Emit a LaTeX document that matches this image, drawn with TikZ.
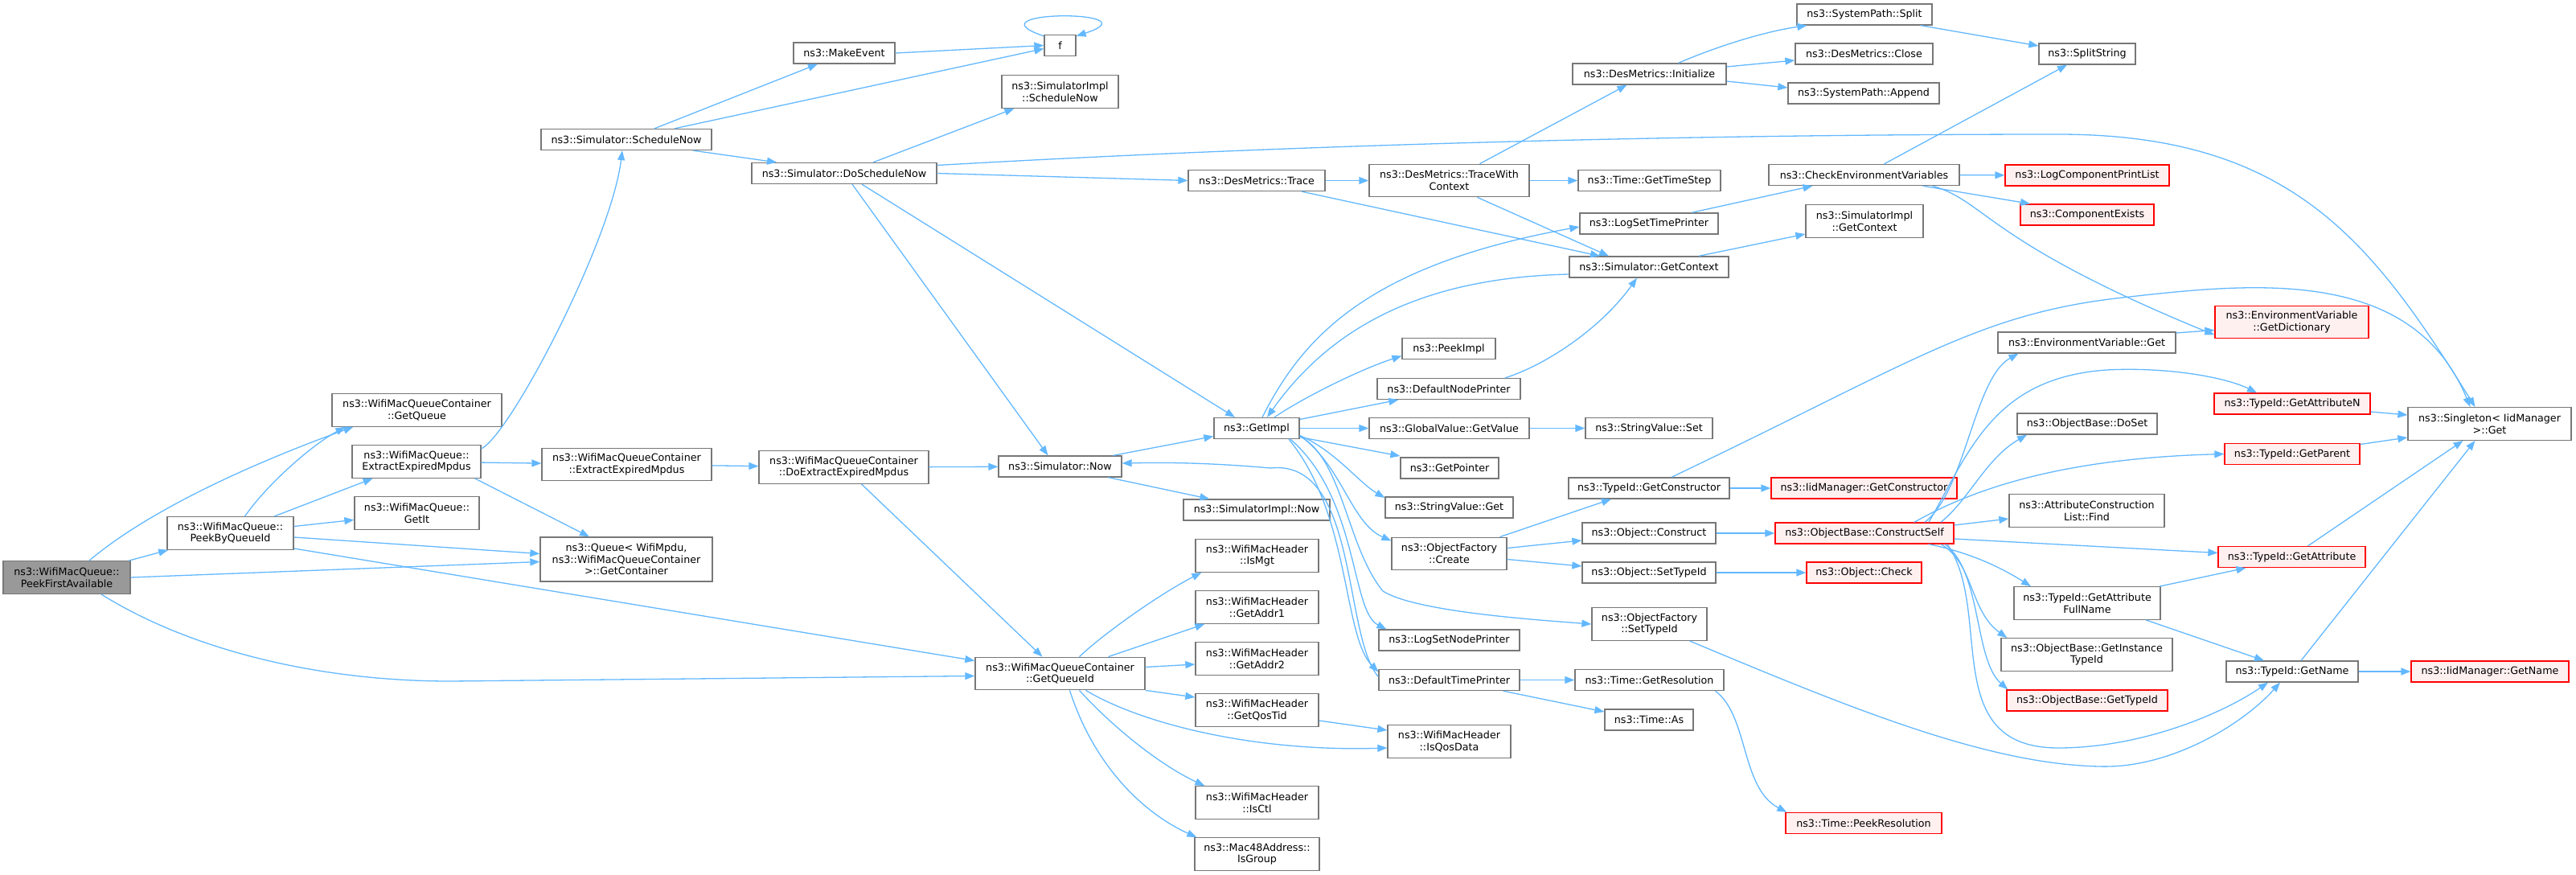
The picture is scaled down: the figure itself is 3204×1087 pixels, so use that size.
\documentclass[tikz,border=0pt]{standalone}
\usepackage{fontspec}
\setmainfont{DejaVu Sans}
\usetikzlibrary{arrows.meta}
\definecolor{callblue}{HTML}{63B8FF}
\definecolor{boxline}{HTML}{777777}
\definecolor{rootfill}{HTML}{999999}
\definecolor{redfill}{HTML}{FFF0F0}

\begin{document}
\begin{tikzpicture}[x=1pt,y=-1pt,
    fn/.style={draw=boxline, fill=white, line width=1.3pt, inner sep=0pt, align=center,
      font=\fontsize{12.7}{14.7}\selectfont},
    fnroot/.style={fn, fill=rootfill},
    fnred/.style={fn, draw=red, fill=redfill},
    ln1/.style={minimum height=26pt},
    ln2/.style={minimum height=40.5pt},
    ln3/.style={minimum height=55pt},
    wd/.style={minimum width=#1pt},
    call/.style={draw=callblue, line width=1.3pt, -{Triangle[length=12pt,width=9pt]}}]
     \useasboundingbox (0,0) rectangle (3204,1087);
      %%%%%%%%%%%%%%%%%%%%%%%%%%%%%%%%%%%%%%%%%%%%%%
      %%% Functions, column by column
      %%%%%%%%%%%%%%%%%%%%%%%%%%%%%%%%%%%%%%%%%%%%%%
     % The function whose graph this is
     \node[fnroot, ln2, wd=158] (pfa) at (83,718) {ns3::WifiMacQueue::\\PeekFirstAvailable};
     \node[fn, ln2, wd=157] (pbq) at (286.5,663) {ns3::WifiMacQueue::\\PeekByQueueId};
     \node[fn, ln2, wd=211] (getq) at (518.5,510) {ns3::WifiMacQueueContainer\\::GetQueue};
     \node[fn, ln2, wd=160] (eem) at (518,574) {ns3::WifiMacQueue::\\ExtractExpiredMpdus};
     \node[fn, ln2, wd=155] (getit) at (518.5,638) {ns3::WifiMacQueue::\\GetIt};
     \node[fn, ln1, wd=212] (schnow) at (779,173.5) {ns3::Simulator::ScheduleNow};
     \node[fn, ln2, wd=211] (cext) at (779.5,577.5) {ns3::WifiMacQueueContainer\\::ExtractExpiredMpdus};
     \node[fn, ln3, wd=214] (getcont) at (779,695.5) {ns3::Queue< WifiMpdu,\\ns3::WifiMacQueueContainer\\>::GetContainer};
     \node[fn, ln1, wd=126] (mkev) at (1050,66) {ns3::MakeEvent};
     \node[fn, ln1, wd=230] (dosch) at (1050,215.5) {ns3::Simulator::DoScheduleNow};
     \node[fn, ln2, wd=211] (doext) at (1049.5,581) {ns3::WifiMacQueueContainer\\::DoExtractExpiredMpdus};
     \node[fn, ln1, wd=39] (f) at (1318.5,56.5) {f};
     \node[fn, ln2, wd=145] (siSched) at (1318.5,114) {ns3::SimulatorImpl\\::ScheduleNow};
     \node[fn, ln1, wd=153] (now) at (1318.5,580) {ns3::Simulator::Now};
     \node[fn, ln2, wd=211] (gqid) at (1318.5,837.5) {ns3::WifiMacQueueContainer\\::GetQueueId};
     \node[fn, ln1, wd=170] (trace) at (1563,224.5) {ns3::DesMetrics::Trace};
     \node[fn, ln1, wd=106] (getimpl) at (1563,532.5) {ns3::GetImpl};
     \node[fn, ln1, wd=182] (siNow) at (1563,634) {ns3::SimulatorImpl::Now};
     % header queries of the queue id
     \foreach \n/\y/\t in {isMgt/691/IsMgt, addr1/755/GetAddr1, addr2/819/GetAddr2,
                           qostid/883/GetQosTid, isCtl/998/IsCtl}
         \node[fn, ln2, wd=153] (\n) at (1563.5,\y) {ns3::WifiMacHeader\\::\t};
     \node[fn, ln2, wd=155] (isGroup) at (1563.5,1062) {ns3::Mac48Address::\\IsGroup};
     \node[fn, ln2, wd=199] (twc) at (1802.5,224.5) {ns3::DesMetrics::TraceWith\\Context};
     \node[fn, ln1, wd=116] (peekImpl) at (1802,433.5) {ns3::PeekImpl};
     \node[fn, ln1, wd=178] (dnp) at (1802,483.5) {ns3::DefaultNodePrinter};
     \node[fn, ln1, wd=199] (gvGet) at (1802.5,532.5) {ns3::GlobalValue::GetValue};
     \node[fn, ln1, wd=122] (getPtr) at (1803,582) {ns3::GetPointer};
     \node[fn, ln1, wd=159] (svGet) at (1802.5,631) {ns3::StringValue::Get};
     \node[fn, ln2, wd=143] (ofCreate) at (1802.5,688.5) {ns3::ObjectFactory\\::Create};
     \node[fn, ln1, wd=175] (lsnp) at (1802.5,796) {ns3::LogSetNodePrinter};
     \node[fn, ln1, wd=175] (dtp) at (1802.5,845.5) {ns3::DefaultTimePrinter};
     \node[fn, ln2, wd=153] (isQos) at (1802.5,922) {ns3::WifiMacHeader\\::IsQosData};
     \node[fn, ln1, wd=191] (init) at (2051.5,92) {ns3::DesMetrics::Initialize};
     \node[fn, ln1, wd=177] (timestep) at (2051.5,224.5) {ns3::Time::GetTimeStep};
     \node[fn, ln1, wd=172] (lstp) at (2051,278) {ns3::LogSetTimePrinter};
     \node[fn, ln1, wd=198] (simGetCtx) at (2051,332) {ns3::Simulator::GetContext};
     \node[fn, ln1, wd=158] (svSet) at (2051,532.5) {ns3::StringValue::Set};
     \node[fn, ln1, wd=200] (tidGetCtor) at (2051,607) {ns3::TypeId::GetConstructor};
     \node[fn, ln1, wd=166] (objConstruct) at (2051,663) {ns3::Object::Construct};
     \node[fn, ln1, wd=166] (objSetTid) at (2051,712) {ns3::Object::SetTypeId};
     \node[fn, ln2, wd=143] (ofSetTid) at (2051.5,776) {ns3::ObjectFactory\\::SetTypeId};
     \node[fn, ln1, wd=185] (getRes) at (2051.5,845.5) {ns3::Time::GetResolution};
     \node[fn, ln1, wd=110] (timeAs) at (2051,895) {ns3::Time::As};
     \node[fn, ln1, wd=168] (spSplit) at (2319,18) {ns3::SystemPath::Split};
     \node[fn, ln1, wd=171] (dmClose) at (2318.5,67) {ns3::DesMetrics::Close};
     \node[fn, ln1, wd=188] (spAppend) at (2318,116) {ns3::SystemPath::Append};
     \node[fn, ln1, wd=237] (checkEnv) at (2318.5,217.5) {ns3::CheckEnvironmentVariables};
     \node[fn, ln2, wd=146] (siGetCtx) at (2319,275) {ns3::SimulatorImpl\\::GetContext};
     \node[fnred, ln1, wd=231] (iidGetCtor) at (2318.5,607) {ns3::IidManager::GetConstructor};
     \node[fnred, ln1, wd=222] (constructSelf) at (2319,663) {ns3::ObjectBase::ConstructSelf};
     \node[fnred, ln1, wd=143] (objCheck) at (2318.5,712) {ns3::Object::Check};
     \node[fnred, ln1, wd=194] (peekRes) at (2318,1023.5) {ns3::Time::PeekResolution};
     \node[fn, ln1, wd=120] (splitStr) at (2596,67) {ns3::SplitString};
     \node[fnred, ln1, wd=204] (logCPL) at (2596,218) {ns3::LogComponentPrintList};
     \node[fnred, ln1, wd=166] (compExists) at (2596,267) {ns3::ComponentExists};
     \node[fn, ln1, wd=221] (envGet) at (2595.5,426) {ns3::EnvironmentVariable::Get};
     \node[fn, ln1, wd=174] (doSet) at (2596,527) {ns3::ObjectBase::DoSet};
     \node[fn, ln2, wd=193] (acFind) at (2595.5,635) {ns3::AttributeConstruction\\List::Find};
     \node[fn, ln2, wd=182] (getAttrFull) at (2596,750) {ns3::TypeId::GetAttribute\\FullName};
     \node[fn, ln2, wd=213] (getInstTid) at (2595.5,814) {ns3::ObjectBase::GetInstance\\TypeId};
     \node[fnred, ln1, wd=200] (getTid) at (2596,871) {ns3::ObjectBase::GetTypeId};
     \node[fnred, ln2, wd=191] (getDict) at (2850.5,400.5) {ns3::EnvironmentVariable\\::GetDictionary};
     \node[fnred, ln1, wd=194] (getAttrN) at (2851,502) {ns3::TypeId::GetAttributeN};
     \node[fnred, ln1, wd=168] (getParent) at (2851,564.5) {ns3::TypeId::GetParent};
     \node[fnred, ln1, wd=183] (getAttr) at (2850.5,692.5) {ns3::TypeId::GetAttribute};
     \node[fn, ln1, wd=164] (getName) at (2851,835) {ns3::TypeId::GetName};
     \node[fn, ln2, wd=203] (singleton) at (3096.5,527) {ns3::Singleton< IidManager\\>::Get};
     \node[fnred, ln1, wd=196] (iidGetName) at (3097,835) {ns3::IidManager::GetName};

      %%%%%%%%%%%%%%%%%%%%%%%%%%%%%%%%%%%%%%%%%%%%%%
      %%% Calls
      %%%%%%%%%%%%%%%%%%%%%%%%%%%%%%%%%%%%%%%%%%%%%%
     % from the queue itself
     \draw[call] (pfa) -- (pbq);
     \draw[call] ([xshift=28pt]pfa.north) .. controls (190,630) and (330,570) .. ([xshift=27pt]getq.south west);
     \draw[call] (pfa.east) -- ([yshift=-3pt]getcont.west);
     \draw[call] (pfa.334) .. controls (240,810) and (400,847) .. (560,847) -- ([yshift=-3pt]gqid.west);
     \draw[call] ([xshift=18pt]pbq.north) .. controls (330,605) and (385,555) .. ([xshift=17pt]getq.south west);
     \draw[call] (pbq) -- (eem);
     \draw[call] (pbq) -- (getit);
     \draw[call] ([yshift=-5pt]pbq.east) -- ([yshift=7pt]getcont.west);
     \draw[call] ([yshift=-19pt]pbq.east) -- ([yshift=16pt]gqid.west);
     \draw[call] ([yshift=16pt]eem.east) .. controls (635,540) and (760,300) .. ([xshift=-5pt]schnow.south);
     \draw[call] (eem) -- (cext);
     \draw[call] ([xshift=-8pt]eem.south east) -- ([xshift=-46pt]getcont.north);
     \draw[call] (cext) -- (doext);
     \draw[call] (doext) -- (now);
     \draw[call] ([xshift=22pt]doext.south) -- ([xshift=-22pt]gqid.north);
     % scheduling
     \draw[call] ([xshift=35pt]schnow.north) -- ([xshift=-33pt]mkev.south);
     \draw[call] ([xshift=60pt]schnow.north) -- ([yshift=-4pt]f.west);
     \draw[call] ([xshift=83pt]schnow.south) -- ([xshift=-84pt]dosch.north);
     \draw[call] (mkev.east) -- (f.west);
     \draw[call] (f.150) .. controls (1200,12) and (1440,12) .. (f.30);
     \draw[call] ([xshift=36pt]dosch.north) -- ([xshift=-57pt]siSched.south);
     \draw[call] (dosch.east) -- (trace.west);
     \draw[call] ([yshift=10pt]dosch.east) .. controls (1700,175) and (2200,167) .. (2560,167)
                 .. controls (2850,167) and (2950,300) .. ([xshift=-18pt]singleton.north);
     \draw[call] ([xshift=22pt]dosch.south) -- ([xshift=-27pt]getimpl.north);
     \draw[call] ([xshift=10pt]dosch.south) -- ([xshift=-15pt]now.north);
     % tracing
     \draw[call] (trace) -- (twc);
     \draw[call] ([xshift=56pt]trace.south) -- ([xshift=-61pt]simGetCtx.north);
     \draw[call] ([xshift=38pt]twc.north) -- ([xshift=-28pt]init.south);
     \draw[call] (twc) -- (timestep);
     \draw[call] ([xshift=35pt]twc.south) -- ([xshift=-50pt]simGetCtx.north);
     \draw[call] ([xshift=36pt]init.north) .. controls (2130,60) and (2190,40) .. ([xshift=13pt]spSplit.south west);
     \draw[call] ([yshift=9pt]init.east) -- ([yshift=-8pt]dmClose.west);
     \draw[call] ([yshift=-9pt]init.east) -- ([yshift=7pt]spAppend.west);
     \draw[call] ([xshift=70pt]spSplit.south) -- ([yshift=10pt]splitStr.west);
     \draw[call] ([xshift=25pt]checkEnv.north) -- ([xshift=-25pt]splitStr.south);
     \draw[call] (checkEnv) -- (logCPL);
     \draw[call] ([xshift=73pt]checkEnv.south) -- ([xshift=-71pt]compExists.north);
     \draw[call] ([xshift=85pt]checkEnv.south) .. controls (2470,250) and (2470,300) .. ([yshift=-16pt]getDict.west);
     \draw[call] ([xshift=53pt]lstp.north) -- ([xshift=-64pt]checkEnv.south);
     \draw[call] ([xshift=62pt]simGetCtx.north) -- ([yshift=-16pt]siGetCtx.west);
     \draw[call] ([yshift=-9pt]simGetCtx.west) .. controls (1780,345) and (1660,400) .. ([xshift=13pt]getimpl.north);
     % the implementation
     \draw[call] ([xshift=7pt]getimpl.north) .. controls (1620,420) and (1700,330) .. ([yshift=-4pt]lstp.west);
     \draw[call] ([xshift=22pt]getimpl.north) .. controls (1620,495) and (1690,460) .. ([yshift=-9pt]peekImpl.west);
     \draw[call] ([yshift=11pt]getimpl.east) -- ([xshift=27pt]dnp.south west);
     \draw[call] (getimpl) -- (gvGet);
     \draw[call] (gvGet) -- (svSet);
     \draw[call] ([yshift=-11pt]getimpl.east) -- ([yshift=15pt]getPtr.west);
     \draw[call] ([yshift=-9pt]getimpl.east) .. controls (1660,560) and (1690,600) .. ([yshift=12pt]svGet.west);
     \draw[call] ([yshift=-9pt]getimpl.east) .. controls (1670,580) and (1680,650) .. ([yshift=16pt]ofCreate.west);
     \draw[call] ([xshift=42pt]getimpl.south) .. controls (1690,620) and (1680,760) .. ([xshift=10pt]lsnp.north west);
     \draw[call] ([xshift=40pt]getimpl.south) .. controls (1680,640) and (1670,790) .. ([yshift=10pt]dtp.west);
     \draw[call] ([yshift=-10pt]getimpl.east) .. controls (1670,570) and (1675,680) .. (1720,735)
                 .. controls (1760,760) and (1900,770) .. (ofSetTid.west);
     \draw[call] ([yshift=4pt]dtp.west) .. controls (1670,790) and (1690,570) .. (1580,582)
                 .. controls (1500,575) and (1450,575) .. ([yshift=4pt]now.east);
     \draw[call] ([xshift=66pt]now.north) -- ([yshift=-10pt]getimpl.west);
     \draw[call] ([xshift=60pt]now.south) -- ([xshift=33pt]siNow.north west);
     \draw[call] ([xshift=70pt]dnp.north) .. controls (1920,455) and (1990,410) .. ([xshift=-15pt]simGetCtx.south);
     % objects and type ids
     \draw[call] ([xshift=63pt]ofCreate.north) -- ([xshift=-47pt]tidGetCtor.south);
     \draw[call] ([yshift=7pt]ofCreate.east) -- ([yshift=-9pt]objConstruct.west);
     \draw[call] ([yshift=-7pt]ofCreate.east) -- ([yshift=8pt]objSetTid.west);
     \draw[call] (tidGetCtor) -- (iidGetCtor);
     \draw[call] ([xshift=28pt]tidGetCtor.north) .. controls (2380,450) and (2460,390) .. (2640,370)
                 .. controls (2800,352) and (3000,330) .. ([xshift=-24pt]singleton.north);
     \draw[call] (objConstruct) -- (constructSelf);
     \draw[call] (objSetTid) -- (objCheck);
     \draw[call] ([xshift=50pt]ofSetTid.south) .. controls (2300,880) and (2470,950) .. (2611,953)
                 .. controls (2700,956) and (2790,900) .. ([xshift=-15pt]getName.south);
     \draw[call] ([xshift=75pt]constructSelf.north) .. controls (2445,610) and (2455,470) .. ([xshift=-85pt]envGet.south);
     \draw[call] ([xshift=80pt]constructSelf.north) .. controls (2450,560) and (2480,470) .. (2620,460)
                 .. controls (2700,456) and (2770,470) .. ([xshift=-44pt]getAttrN.north);
     \draw[call] ([xshift=95pt]constructSelf.north) .. controls (2450,620) and (2470,570) .. ([xshift=-75pt]doSet.south);
     \draw[call] ([xshift=62pt]constructSelf.north) .. controls (2450,610) and (2560,570) .. (getParent.west);
     \draw[call] ([yshift=10pt]constructSelf.east) -- ([yshift=-10pt]acFind.west);
     \draw[call] ([yshift=-7pt]constructSelf.east) -- ([yshift=5pt]getAttr.west);
     \draw[call] ([xshift=80pt]constructSelf.south) .. controls (2440,685) and (2480,700) .. ([xshift=-70pt]getAttrFull.north);
     \draw[call] ([xshift=95pt]constructSelf.south) .. controls (2455,700) and (2450,760) .. ([xshift=8pt]getInstTid.north west);
     \draw[call] ([xshift=100pt]constructSelf.south) .. controls (2465,710) and (2455,820) .. ([xshift=2pt]getTid.north west);
     \draw[call] ([xshift=103pt]constructSelf.south) .. controls (2480,760) and (2410,930) .. (2560,930)
                 .. controls (2660,930) and (2760,890) .. ([xshift=-30pt]getName.south);
     \draw[call] ([xshift=90pt]getAttrFull.north) -- ([xshift=-57pt]getAttr.south);
     \draw[call] ([xshift=73pt]getAttrFull.south) -- ([xshift=-35pt]getName.north);
     \draw[call] ([xshift=11pt]getName.north) -- ([xshift=-18pt]singleton.south);
     \draw[call] (getName) -- (iidGetName);
     \draw[call] ([xshift=20pt]getAttr.north) -- ([xshift=-33pt]singleton.south);
     \draw[call] ([yshift=12pt]getParent.east) -- ([yshift=-17pt]singleton.west);
     \draw[call] ([yshift=-10pt]getAttrN.east) -- ([yshift=11pt]singleton.west);
     \draw[call] ([yshift=12pt]envGet.east) -- ([yshift=-10pt]getDict.west);
     % time printing
     \draw[call] (dtp) -- (getRes);
     \draw[call] ([xshift=67pt]dtp.south) -- ([yshift=10pt]timeAs.west);
     \draw[call] ([xshift=82pt]getRes.south) .. controls (2175,890) and (2165,980) .. ([xshift=2pt]peekRes.north west);
     % header queries
     \draw[call] ([xshift=24pt]gqid.north) .. controls (1370,790) and (1440,740) .. ([xshift=8pt]isMgt.south west);
     \draw[call] ([xshift=60pt]gqid.north) -- ([xshift=12pt]addr1.south west);
     \draw[call] ([yshift=8pt]gqid.east) -- ([yshift=-7pt]addr2.west);
     \draw[call] (gqid.south east) -- ([yshift=16pt]qostid.west);
     \draw[call] ([xshift=32pt]gqid.south) .. controls (1420,900) and (1560,935) .. ([yshift=-8pt]isQos.west);
     \draw[call] ([xshift=24pt]gqid.south) .. controls (1380,900) and (1440,950) .. ([xshift=12pt]isCtl.north west);
     \draw[call] ([xshift=12pt]gqid.south) .. controls (1360,950) and (1420,1010) .. ([xshift=3pt]isGroup.north west);
     \draw[call] ([yshift=-13pt]qostid.east) -- ([yshift=14pt]isQos.west);
\end{tikzpicture}
\end{document}
